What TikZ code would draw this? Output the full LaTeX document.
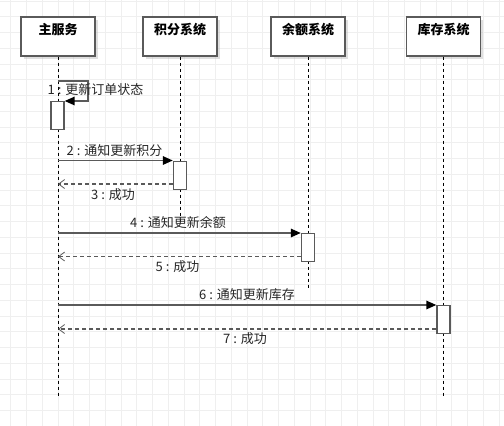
\documentclass[tikz,border=0pt]{standalone}
\usepackage{fontspec}
\setmainfont{Noto Sans CJK SC}
\usetikzlibrary{arrows.meta,shadows}
\definecolor{lineclr}{HTML}{5A5A5A}
\definecolor{gridclr}{HTML}{EFEFEF}
\tikzset{
  x=1pt,y=-1pt,
  headbox/.style={draw=lineclr,line width=1.4pt,fill=white,minimum width=74pt,minimum height=39pt,inner sep=0pt,
    drop shadow={shadow xshift=2.5pt,shadow yshift=-2.5pt,fill=black!25,opacity=0.5}},
  headtext/.style={font=\fontsize{13}{15}\selectfont\bfseries,inner sep=0pt,anchor=north},
  actbox/.style={draw=lineclr,line width=1.4pt,fill=white,minimum width=13pt,minimum height=28pt,inner sep=0pt,anchor=north},
  lifeline/.style={draw=black,line width=0.9pt,dash pattern=on 3pt off 3pt},
  msg/.style={draw=lineclr,line width=1.5pt,-{Triangle[length=10pt,width=8.5pt,color=black]}},
  ret/.style={draw=lineclr,line width=1.2pt,dash pattern=on 4pt off 3pt,-{Straight Barb[length=6pt,width=9pt,line width=0.8pt]}},
  lbl/.style={font=\fontsize{13}{15}\selectfont,inner sep=0pt,text=black!85}
}
\begin{document}
\begin{tikzpicture}
\useasboundingbox (0,0) rectangle (504,426);
% grid background
\foreach \i in {0,...,31} {\draw[gridclr,line width=1pt] (10.95+15.75*\i,0) -- (10.95+15.75*\i,426);}
\foreach \j in {0,...,27} {\draw[gridclr,line width=1pt] (0,1.05+15.75*\j) -- (504,1.05+15.75*\j);}

% lifeline heads
\node[headbox] (m) at (58,36.5) {};
\node[headbox] (p) at (180,36.5) {};
\node[headbox] (b) at (308,36.5) {};
\node[headbox] (s) at (443.5,36.5) {};
\node[headtext] (mt) at ([yshift=-7pt]m.north) {主服务};
\node[headtext] (pt) at ([yshift=-7pt]p.north) {积分系统};
\node[headtext] (bt) at ([yshift=-7pt]b.north) {余额系统};
\node[headtext] (st) at ([yshift=-7pt]s.north) {库存系统};

% lifeline ends
\coordinate (me) at (58,396);
\coordinate (pe) at (180,222);
\coordinate (be) at (308,288);
\coordinate (se) at (443.5,396);
\draw[lifeline] (m.south) -- (me);
\draw[lifeline] (p.south) -- (pe);
\draw[lifeline] (b.south) -- (be);
\draw[lifeline] (s.south) -- (se);

% activation boxes
\node[actbox] (a1) at (57.5,101) {};
\node[actbox] (a2) at (180,160.5) {};
\node[actbox] (a3) at (308,233) {};
\node[actbox] (a4) at (443.5,305) {};

% message points on main lifeline
\coordinate (m1) at (58,81);
\coordinate (m1r) at (88,81);
\coordinate (m2) at (58,160.5);
\coordinate (m3) at (58,184);
\coordinate (m4) at (58,233);
\coordinate (m5) at (58,256.5);
\coordinate (m6) at (58,305);
\coordinate (m7) at (58,329);

% 1: self message
\draw[msg] (m1) -- (m1r) |- (a1.north east);
\node[lbl] (l1) at (95.5,90) {1 : 更新订单状态};

% 2 / 3
\draw[msg] (m2) -- (a2.north west);
\node[lbl] (l2) at (114.5,151) {2 : 通知更新积分};
\draw[ret] (a2.west |- m3) -- (m3);
\node[lbl] (l3) at (113,195) {3 : 成功};

% 4 / 5
\draw[msg] (m4) -- (a3.north west);
\node[lbl] (l4) at (178,223) {4 : 通知更新余额};
\draw[ret] (a3.west |- m5) -- (m5);
\node[lbl] (l5) at (177.5,266.5) {5 : 成功};

% 6 / 7
\draw[msg] (m6) -- (a4.north west);
\node[lbl] (l6) at (247,295) {6 : 通知更新库存};
\draw[ret] (a4.west |- m7) -- (m7);
\node[lbl] (l7) at (245,339) {7 : 成功};
\end{tikzpicture}
\end{document}
